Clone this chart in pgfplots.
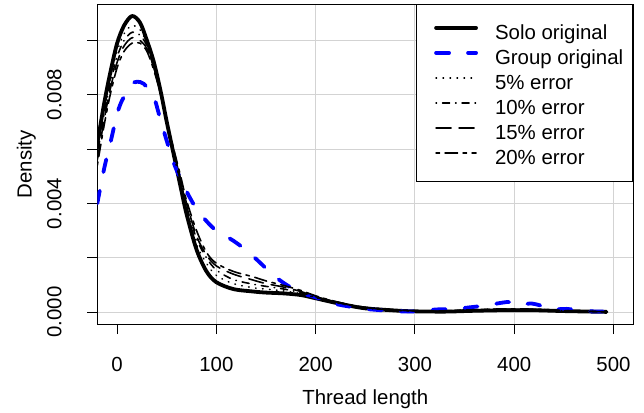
\documentclass[border=0pt]{standalone}
\usepackage{fontspec}
\setmainfont{Liberation Sans}
\usepackage{pgfplots}
\pgfplotsset{compat=1.18}
\definecolor{gridgray}{HTML}{D3D3D3}
\definecolor{rblue}{RGB}{0,0,255}
\newcommand{\ff}{\fontsize{20.4bp}{24bp}\selectfont}

\pgfplotstableread{
x solo
-20 0.0062
-13 0.0077
-7 0.0088
0 0.0099
7 0.01055
15 0.01090
23 0.01066
30 0.0100
37 0.0092
44 0.0081
50 0.0070
57 0.0058
64 0.0046
70 0.0036
80 0.0023
90 0.0015
100 0.0011
117 0.00085
137 0.00076
150 0.00072
168 0.00069
185 0.00063
200 0.00051
218 0.00036
235 0.00023
250 0.00014
268 0.00009
285 0.00005
300 0.00003
330 0.00002
360 0.00005
390 0.00007
420 0.00007
450 0.00004
493 0.00001
}\solo

\pgfplotstableread{
x grp
-20 0.0040
-13 0.0053
-7 0.0062
0 0.0073
5 0.0078
10 0.0081
15 0.0084
20 0.00848
27 0.0084
37 0.0079
42 0.0073
50 0.0063
58 0.0054
64 0.0049
72 0.0043
80 0.0038
90 0.00335
100 0.0030
117 0.00263
131 0.00225
144 0.00182
156 0.0014
170 0.00102
185 0.00072
198 0.00057
218 0.00032
235 0.0002
250 0.00012
270 0.00006
285 0.00003
300 0.00003
322 0.0001
340 0.00012
356 0.00018
372 0.00025
388 0.00035
396 0.00037
406 0.00025
416 0.00032
426 0.00025
436 0.0001
453 0.00012
470 0.00004
493 0.00002
}\grp

\pgfplotstableread{
x e5 e10 e15 e20
-20 0.0060 0.0058 0.0056 0.0054
-13 0.0075 0.0073 0.0071 0.0069
-7 0.0086 0.0084 0.0082 0.0080
0 0.0096 0.0094 0.0092 0.0090
7 0.01025 0.0100 0.0098 0.0096
15 0.01055 0.0103 0.0101 0.0099
23 0.0104 0.0102 0.0100 0.0099
30 0.0099 0.0098 0.0097 0.0096
37 0.0091 0.0090 0.0090 0.0089
44 0.0080 0.0080 0.0080 0.0080
50 0.0069 0.0069 0.0070 0.0070
57 0.0058 0.0058 0.0059 0.0060
64 0.0047 0.0048 0.0049 0.0050
70 0.0038 0.0039 0.0040 0.0041
80 0.0025 0.0027 0.0028 0.0030
90 0.0018 0.0020 0.0021 0.0022
100 0.00135 0.00155 0.0017 0.0018
117 0.00105 0.0012 0.0014 0.0015
137 0.0009 0.00103 0.00118 0.0013
150 0.00085 0.00095 0.00105 0.00115
168 0.00078 0.00085 0.00092 0.00098
185 0.00068 0.00072 0.00076 0.0008
200 0.00053 0.00055 0.00057 0.0006
218 0.00037 0.00039 0.0004 0.00041
235 0.00024 0.00025 0.00026 0.00027
250 0.00015 0.00016 0.00017 0.00018
268 0.0001 0.0001 0.00011 0.00012
285 0.00006 0.00006 0.00007 0.00007
300 0.00004 0.00004 0.00005 0.00005
330 0.00003 0.00004 0.00004 0.00005
360 0.00006 0.00007 0.00008 0.00009
390 0.00009 0.0001 0.00011 0.00012
420 0.00008 0.00009 0.0001 0.00011
450 0.00005 0.00005 0.00006 0.00006
493 0.00001 0.00001 0.00001 0.00001
}\err

\begin{document}
\begin{tikzpicture}
\begin{axis}[
  name=ax,
  scale only axis,
  width=536bp, height=319.7bp,
  xmin=-20, xmax=520, ymin=-0.000436, ymax=0.011331,
  scaled x ticks=false, scaled y ticks=false,
  axis line style={line width=1bp},
  xtick={100,200,300,400,500},
  xticklabels={100,200,300,400,500},
  extra x ticks={0},
  extra x tick labels={0},
  extra x tick style={xmajorgrids=false},
  xmajorgrids=true,
  ytick={0,0.002,0.004,0.006,0.008,0.010},
  yticklabels={0.000,{},0.004,{},0.008,{}},
  xtick pos=bottom, ytick pos=left,
  tick align=outside,
  major tick length=10bp,
  tick style={line width=1bp, black},
  ymajorgrids=true,
  grid style={gridgray, line width=1bp},
  xticklabel style={font=\ff, inner sep=0pt, anchor=north, yshift=-22.7bp},
  yticklabel style={font=\ff, inner sep=0pt, xshift=-25.6bp, rotate=90, anchor=south},
  xlabel={Thread length}, ylabel={Density},
  xlabel style={font=\ff, at={(axis description cs:0.5,-0.25023)}, anchor=base, inner sep=0pt},
  ylabel style={font=\ff, at={(axis description cs:-0.12239,0.5)}, anchor=base, inner sep=0pt},
  legend style={at={(1,1)}, anchor=north east, draw=black, line width=1bp, fill=white, font=\ff,
    inner xsep=9.6bp, inner ysep=14.5bp, row sep=2.6bp,
    nodes={inner sep=0pt, text height=20bp, text depth=2.4bp},
    /tikz/every odd column/.append style={column sep=19bp}},
  legend cell align=left,
  legend image code/.code={\path[draw=none,fill=none] (0bp,0.7bp) rectangle (49.7bp,4.7bp); \draw[#1, overlay] (9.7bp,2.7bp) -- (49.7bp,2.7bp);},
  every axis plot/.append style={line join=round, line cap=round},
]
\addplot[black, line width=3.8bp, smooth] table[x=x, y=solo] {\solo};
\addlegendentry{Solo original}
\addplot[rblue, line width=3.8bp, smooth, dash pattern=on 13bp off 19bp] table[x=x, y=grp] {\grp};
\addlegendentry{Group original}
\addplot[black, line width=1.6bp, smooth, dash pattern=on 0.5bp off 6.5bp] table[x=x, y=e5] {\err};
\addlegendentry{5\% error}
\addplot[black, line width=1.6bp, smooth, dash pattern=on 0.5bp off 6bp on 7bp off 6bp] table[x=x, y=e10] {\err};
\addlegendentry{10\% error}
\addplot[black, line width=1.6bp, smooth, dash pattern=on 15bp off 8bp] table[x=x, y=e15] {\err};
\addlegendentry{15\% error}
\addplot[black, line width=1.6bp, smooth, dash pattern=on 3.5bp off 5.5bp on 12.5bp off 5.5bp] table[x=x, y=e20] {\err};
\addlegendentry{20\% error}
\end{axis}
\pgfresetboundingbox
\path[use as bounding box] ([xshift=-97.3bp,yshift=-89bp]ax.south west) rectangle ([xshift=10.7bp,yshift=4.3bp]ax.north east);
\end{tikzpicture}
\end{document}
